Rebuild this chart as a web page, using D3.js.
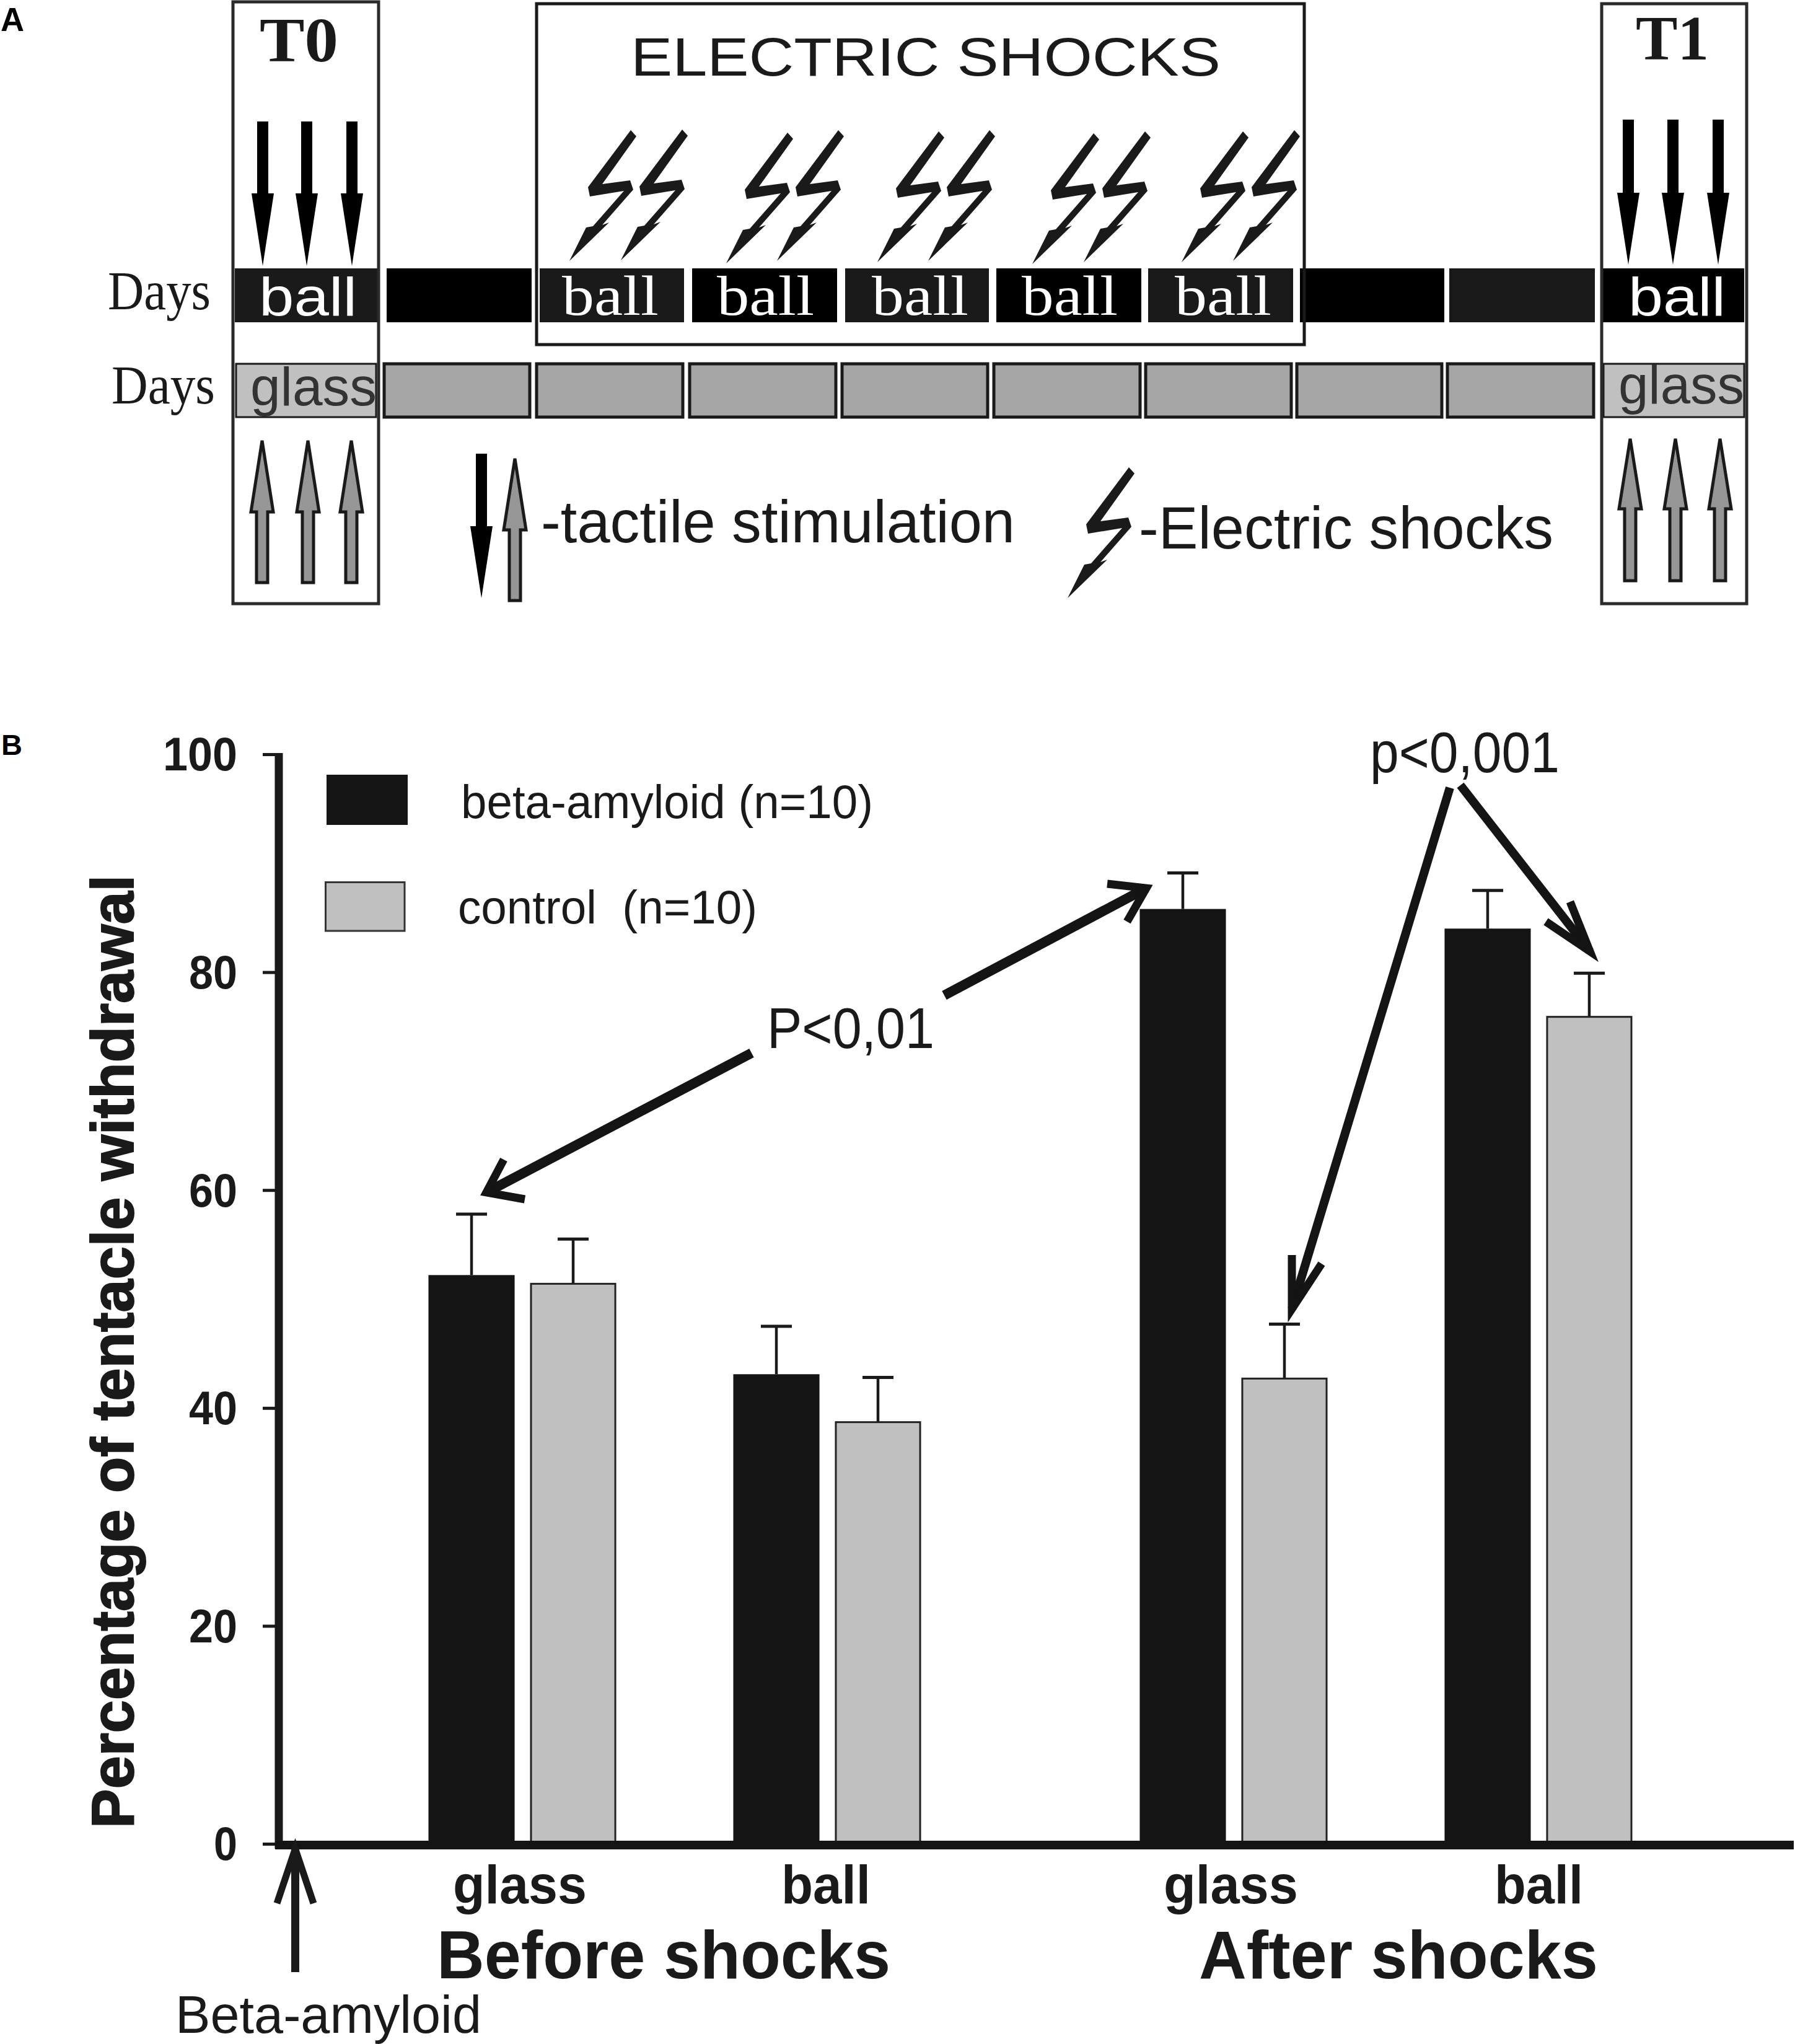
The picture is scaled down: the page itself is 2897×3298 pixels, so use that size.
<!DOCTYPE html>
<html><head><meta charset="utf-8">
<script src="https://cdnjs.cloudflare.com/ajax/libs/d3/7.8.5/d3.min.js"></script>
<style>html,body{margin:0;padding:0;background:#fff}svg{display:block}</style>
</head><body><div id="chart"></div>
<script>
// ---- Panel B data ----
const groups = ["Before shocks", "After shocks"];
const stimuli = ["glass", "ball", "glass", "ball"];
const betaAmyloid = [52.2, 43.1, 85.8, 84.0];
const control = [51.4, 38.7, 42.7, 75.9];
const betaError = [5.6, 4.4, 3.3, 3.5];
const controlError = [4.1, 4.1, 5.0, 4.0];
const yTicks = [0, 20, 40, 60, 80, 100];
const seriesNames = ["beta-amyloid (n=10)", "control  (n=10)"];
// ---- Panel A content ----
const ballDayLabels = ["ball", "", "ball", "ball", "ball", "ball", "ball", "", "", "ball"];
const glassDayLabels = ["glass", "", "", "", "", "", "", "", "", "glass"];

const W = 2897, H = 3298, INK = "#1a1a1a", SANS = "'Liberation Sans',Arial,sans-serif", SERIF = "'Liberation Serif','Times New Roman',serif";
const svg = d3.select("#chart").append("svg").attr("width", W).attr("height", H).attr("viewBox", `0 0 ${W} ${H}`);
svg.append("rect").attr("width", W).attr("height", H).attr("fill", "#fff");

function fit(parent, text, x0, x1, y, size, o = {}) {
  return parent.append("text").text(text).attr("x", x0).attr("y", y)
    .attr("font-family", o.family || SANS).attr("font-size", size)
    .attr("font-weight", o.weight || "normal").attr("fill", o.fill || INK)
    .attr("textLength", x1 - x0).attr("lengthAdjust", "spacingAndGlyphs")
    .attr("xml:space", "preserve").style("white-space", "pre");
}
const poly = d3.line();
function closed(parent, pts, fill, stroke, sw) {
  return parent.append("path").attr("d", poly(pts) + "Z").attr("fill", fill)
    .attr("stroke", stroke || "none").attr("stroke-width", sw || 0).attr("stroke-linejoin", "miter");
}
function box(parent, x0, y0, x1, y1, fill, stroke, sw) {
  return parent.append("rect").attr("x", x0).attr("y", y0).attr("width", x1 - x0).attr("height", y1 - y0)
    .attr("fill", fill).attr("stroke", stroke || "none").attr("stroke-width", sw || 0);
}

// ================= Panel A =================
const A = svg.append("g");
fit(A, "A", 1, 39, 50, 54, {weight: "bold", fill: "#000"});

// day rows
const ballCells = [[379,609],[624,858],[871,1104],[1117,1351],[1364,1596],[1608,1842],[1853,2087],[2098,2331],[2339,2574],[2587,2815]];
const ballFill = ["#1a1a1a","#000","#1a1a1a","#000","#1a1a1a","#000","#1a1a1a","#000","#1a1a1a","#000"];
ballCells.forEach((c, i) => box(A, c[0], 433, c[1], 520, ballFill[i]));
const glassCells = [[381,607],[620,855],[866,1102],[1113,1349],[1359,1594],[1604,1840],[1849,2084],[2093,2327],[2336,2572],[2588,2815]];
glassCells.forEach((c, i) => {
  const end = i === 0 || i === 9;
  box(A, c[0], 587, c[1], 673, end ? "#c0c0c0" : "#a6a6a6", INK, end ? 3 : 5);
});

// enclosing boxes
box(A, 376, 3, 611, 974, "none", "#2a2a2a", 5);
box(A, 866, 6, 2105, 556, "none", INK, 5);
box(A, 2585, 6, 2819, 974, "none", "#2a2a2a", 5);

// headings
fit(A, "T0", 419, 546, 99, 102, {family: SERIF, weight: "bold"});
fit(A, "T1", 2640, 2758, 96, 102, {family: SERIF, weight: "bold"});
fit(A, "ELECTRIC SHOCKS", 1018, 1970, 122, 88);
fit(A, "Days", 174, 340, 499, 88, {family: SERIF});
fit(A, "Days", 180, 347, 651, 88, {family: SERIF});

// labels in cells
const ballSpans = [[418,576],null,[907,1063],[1157,1314],[1407,1563],[1649,1804],[1896,2052],null,null,[2628,2785]];
ballDayLabels.forEach((t, i) => {
  if (!t) return;
  const sans = i === 0 || i === 9;
  fit(A, t, ballSpans[i][0], ballSpans[i][1], sans ? 509 : 508, sans ? 88 : 92, {fill: "#fff", family: sans ? SANS : SERIF});
});
const glassSpans = {0: [404,608, 654], 9: [2612,2815, 651]};
glassDayLabels.forEach((t, i) => {
  if (!t) return;
  const g = glassSpans[i];
  fit(A, t, g[0], g[1], g[2], 88, {fill: "#333"});
});

// stimulation arrows
function downArrow(x, top, head, tip) {
  closed(A, [[x-9,top],[x+9,top],[x+9,head],[x+18,head],[x,tip],[x-18,head],[x-9,head]], "#000");
}
function upArrow(x, tip, head, bottom) {
  closed(A, [[x,tip],[x+18,head],[x+9,head],[x+9,bottom],[x-9,bottom],[x-9,head],[x-18,head]], "#969696", INK, 5);
}
[424,495,568].forEach(x => downArrow(x, 196, 312, 429));
[2628,2700,2773].forEach(x => downArrow(x, 193, 311, 427));
[423,497,567].forEach(x => upArrow(x, 711, 826, 940));
[2631,2704,2776].forEach(x => upArrow(x, 708, 821, 937));
downArrow(777, 732, 849, 965);
upArrow(831, 740, 855, 969);

// lightning bolts
const boltShape = [[0,0],[9,10],[-46,87],[-1,81],[4,96],[-46,153],[-35,149],[-99,211],[-72,157],[-61,155],[-11,98],[-66,107],[-69,92]];
const boltTips = [[1018,210],[1101,209],[1271,214],[1353,210],[1515,212],[1597,210],[1765,215],[1848,212],[2006,212],[2089,210],[1822,754]];
boltTips.forEach(t => closed(A, boltShape.map(p => [t[0]+p[0], t[1]+p[1]]), INK));

fit(A, "-tactile stimulation", 873, 1638, 875, 96);
fit(A, "-Electric shocks", 1838, 2507, 885, 96);

// ================= Panel B =================
const B = svg.append("g");
fit(B, "B", 2, 36, 1218, 46, {weight: "bold", fill: "#000"});

const y = d3.scaleLinear().domain([0, 100]).range([2975, 1217]);
const yAxisX = 450;

// slots: pairs of bars, spacers keep the pair groups apart
const slots = ["0a","0c","s1","1a","1c","s2","s3","2a","2c","s4","3a","3c"];
const x = d3.scaleBand().domain(slots).range([691.5, 2634.5]).paddingInner(0.152).paddingOuter(0);

const bars = [];
stimuli.forEach((s, i) => {
  bars.push({k: i + "a", v: betaAmyloid[i], e: betaError[i], beta: true});
  bars.push({k: i + "c", v: control[i], e: controlError[i], beta: false});
});

// error bars
const eb = B.append("g").selectAll("g").data(bars).join("g");
eb.append("line").attr("x1", d => x(d.k) + x.bandwidth()/2).attr("x2", d => x(d.k) + x.bandwidth()/2)
  .attr("y1", d => y(d.v)).attr("y2", d => y(d.v + d.e)).attr("stroke", INK).attr("stroke-width", 4.5);
eb.append("line").attr("x1", d => x(d.k) + x.bandwidth()/2 - 25).attr("x2", d => x(d.k) + x.bandwidth()/2 + 25)
  .attr("y1", d => y(d.v + d.e)).attr("y2", d => y(d.v + d.e)).attr("stroke", INK).attr("stroke-width", 5);

// bars
B.append("g").selectAll("rect").data(bars).join("rect")
  .attr("x", d => x(d.k) + (d.beta ? 0 : 1.5))
  .attr("width", d => x.bandwidth() - (d.beta ? 0 : 3))
  .attr("y", d => y(d.v)).attr("height", d => y(0) - y(d.v))
  .attr("fill", d => d.beta ? "#141414" : "#c0c0c0")
  .attr("stroke", d => d.beta ? "none" : "#222").attr("stroke-width", d => d.beta ? 0 : 3);

// axes
const yAxis = d3.axisLeft(y).tickValues(yTicks).tickSize(26).tickSizeOuter(0).tickPadding(41);
const yg = B.append("g").attr("transform", `translate(${yAxisX},0)`).call(yAxis);
yg.select(".domain").remove();
yg.selectAll(".tick line").attr("stroke", INK).attr("stroke-width", 5);
yg.selectAll(".tick text").attr("font-family", SANS).attr("font-weight", "bold").attr("font-size", 76).attr("fill", INK).attr("dy", "0.34em")
  .attr("textLength", d => d === 100 ? 120 : d === 0 ? 38 : 78).attr("lengthAdjust", "spacingAndGlyphs");
B.append("line").attr("x1", yAxisX).attr("x2", yAxisX).attr("y1", 1215).attr("y2", 2983).attr("stroke", INK).attr("stroke-width", 13);
B.append("line").attr("x1", 444).attr("x2", 2895).attr("y1", 2977).attr("y2", 2977).attr("stroke", "#141414").attr("stroke-width", 14);

// y title
B.append("text").text("Percentage of tentacle withdrawal")
  .attr("transform", "translate(215,2950) rotate(-90)")
  .attr("font-family", SANS).attr("font-weight", "bold").attr("font-size", 97).attr("fill", INK)
  .attr("stroke", INK).attr("stroke-width", 2)
  .attr("textLength", 1538).attr("lengthAdjust", "spacingAndGlyphs");

// category labels
const stimSpans = [[731,947],[1261,1405],[1878,2095],[2412,2555]];
stimuli.forEach((s, i) => fit(B, s, stimSpans[i][0], stimSpans[i][1], 3071, 88, {weight: "bold"}));
fit(B, groups[0], 705, 1437, 3192, 110, {weight: "bold"});
fit(B, groups[1], 1935, 2579, 3192, 110, {weight: "bold"});

// legend
box(B, 527, 1250, 658, 1331, "#141414");
box(B, 525.5, 1423.5, 653, 1502, "#c0c0c0", "#333", 3);
fit(B, seriesNames[0], 744, 1409, 1320, 76);
fit(B, seriesNames[1], 739, 1222, 1490, 76);

// annotations
function openArrow(from, apex, b1, b2, sw) {
  B.append("line").attr("x1", from[0]).attr("y1", from[1]).attr("x2", apex[0]).attr("y2", apex[1])
    .attr("stroke", "#141414").attr("stroke-width", sw);
  B.append("path").attr("d", poly([b1, apex, b2])).attr("fill", "none").attr("stroke", "#141414")
    .attr("stroke-width", 13).attr("stroke-linejoin", "miter").attr("stroke-miterlimit", 6);
}
fit(B, "P<0,01", 1238, 1508, 1691, 92);
fit(B, "p<0,001", 2211, 2517, 1246, 92);
openArrow([1213,1699],[785,1924],[813,1871],[847,1935],16);
openArrow([1524,1606],[1850,1433],[1787,1426],[1819,1487],16);
openArrow([2340,1271],[2085,2112],[2085,2025],[2133,2039],14);
openArrow([2357,1267],[2566,1535],[2534,1455],[2495,1487],14);

// beta-amyloid injection arrow
B.append("line").attr("x1", 476.5).attr("x2", 476.5).attr("y1", 3182).attr("y2", 2983).attr("stroke", INK).attr("stroke-width", 13);
B.append("path").attr("d", poly([[447,3071],[476.5,2983],[506,3071]])).attr("fill", "none").attr("stroke", INK).attr("stroke-width", 11);
fit(B, "Beta-amyloid", 283, 777, 3280, 86);
</script></body></html>
